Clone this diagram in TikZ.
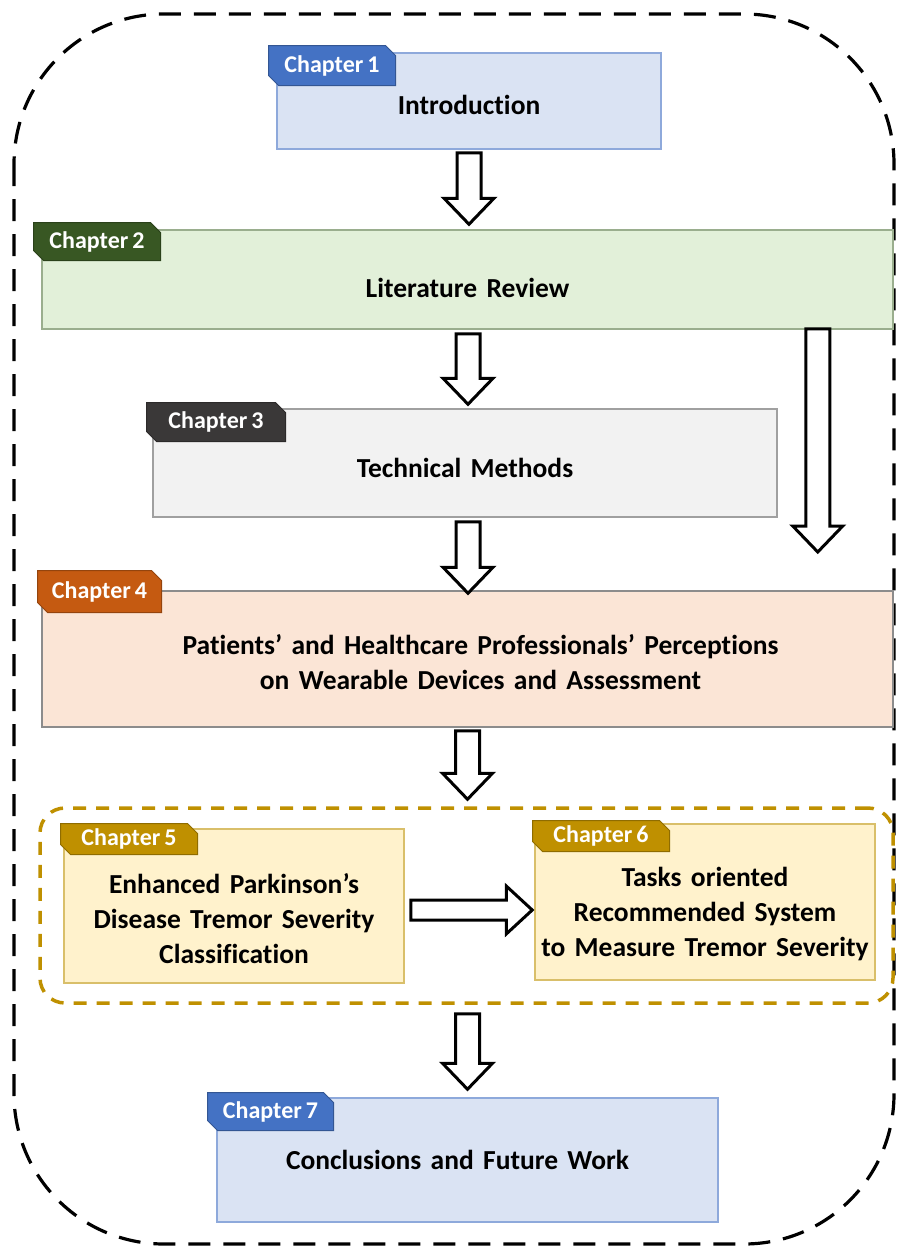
\documentclass[tikz,border=0pt]{standalone}
\usepackage{fontspec}
\setmainfont{Carlito}[WordSpace=1.5, Ligatures=NoCommon]
\usetikzlibrary{calc,positioning,shapes.misc}

\definecolor{bluetab}{HTML}{4472C4}
\definecolor{bluefill}{HTML}{DAE3F3}
\definecolor{blueline}{HTML}{8EA9DB}
\definecolor{greentab}{HTML}{385723}
\definecolor{greenfill}{HTML}{E2F0D9}
\definecolor{greenline}{HTML}{9AAE8E}
\definecolor{greytab}{HTML}{3A3838}
\definecolor{greyfill}{HTML}{F2F2F2}
\definecolor{greyline}{HTML}{A0A0A0}
\definecolor{orangetab}{HTML}{C55A11}
\definecolor{orangefill}{HTML}{FBE5D6}
\definecolor{orangeline}{HTML}{8C8C8C}
\definecolor{goldtab}{HTML}{BF9000}
\definecolor{goldfill}{HTML}{FFF2CC}
\definecolor{goldline}{HTML}{D9BF6A}

\tikzset{
  chapbox/.style 2 args={rectangle, fill=#1, draw=#2, line width=1.5pt, inner sep=0pt},
  body/.style={font=\bfseries\fontsize{27.5}{35}\selectfont, align=center, text=black},
  tab/.style={chamfered rectangle, chamfered rectangle corners={north east,south west},
    chamfered rectangle xsep=5pt, chamfered rectangle ysep=5pt,
    fill=#1, draw=#1!75!black, line width=1pt, text=white, inner sep=0pt,
    font=\bfseries\fontsize{24}{28}\selectfont, anchor=north west},
  fatarrow/.style={draw=black, fill=white, line width=3pt, line join=miter},
  outerline/.style={draw=black, line width=3.2pt, dash pattern=on 22pt off 13pt, rounded corners=150pt},
  groupline/.style={draw=goldtab, line width=3.5pt, dash pattern=on 13pt off 10pt, rounded corners=25pt}
}

% block arrow pointing down / right
\newcommand{\downarr}[2]{%
  \draw[fatarrow] let \p1=#1, \p2=#2 in
    (\x1-12pt,\y1) -- (\x1+12pt,\y1) -- (\x1+12pt,\y2+26pt) -- (\x1+25pt,\y2+26pt)
    -- (\x1,\y2) -- (\x1-25pt,\y2+26pt) -- (\x1-12pt,\y2+26pt) -- cycle;}
\newcommand{\rightarr}[2]{%
  \draw[fatarrow] let \p1=#1, \p2=#2 in
    (\x1,\y1+10pt) -- (\x2-26pt,\y1+10pt) -- (\x2-26pt,\y1+24pt) -- (\x2,\y1)
    -- (\x2-26pt,\y1-24pt) -- (\x2-26pt,\y1-10pt) -- (\x1,\y1-10pt) -- cycle;}

\begin{document}
\begin{tikzpicture}[x=1pt,y=-1pt]
  \useasboundingbox (0,0) rectangle (905,1250);

  \draw[outerline] (14,14) rectangle (894,1244);

  % chapter boxes
  \node[chapbox={bluefill}{blueline}, minimum width=384pt, minimum height=96pt,
        label={[body,yshift=-4pt]center:Introduction}] (ch1) at (469,101) {};
  \node[chapbox={greenfill}{greenline}, minimum width=851pt, minimum height=99pt,
        label={[body,yshift=-8pt]center:Literature Review}] (ch2) at (467.5,279.5) {};
  \node[chapbox={greyfill}{greyline}, minimum width=624pt, minimum height=108pt,
        label={[body,yshift=-5pt]center:Technical Methods}] (ch3) at (465,463) {};
  \node[chapbox={orangefill}{orangeline}, minimum width=851pt, minimum height=136pt,
        label={[body,yshift=-3pt,xshift=13pt]center:Patients’ and Healthcare Professionals’ Perceptions\\on Wearable Devices and Assessment}] (ch4) at (467.5,659) {};

  \node[groupline, minimum width=853pt, minimum height=195pt] (grp) at (466.5,905.5) {};

  \node[chapbox={goldfill}{goldline}, minimum width=340pt, minimum height=154pt,
        label={[body,yshift=-13pt]center:Enhanced Parkinson’s\\Disease Tremor Severity\\Classification}] (ch5) at (234,906) {};
  \node[chapbox={goldfill}{goldline}, minimum width=340pt, minimum height=156pt,
        label={[body,yshift=-12pt]center:Tasks oriented\\Recommended System\\to Measure Tremor Severity}] (ch6) at (705,902) {};
  \node[chapbox={bluefill}{blueline}, minimum width=501pt, minimum height=124pt,
        label={[body,xshift=-10pt]center:Conclusions and Future Work}] (ch7) at (467.5,1160) {};

  % tabs
  \node[tab=bluetab, minimum width=127pt, minimum height=40pt] (t1) at (268,45) {Chapter\,1};
  \node[tab=greentab, minimum width=127pt, minimum height=38pt] (t2) at (33,222) {Chapter\,2};
  \node[tab=greytab, minimum width=139pt, minimum height=39pt] (t3) at (146,402) {Chapter\,3};
  \node[tab=orangetab, minimum width=124pt, minimum height=42pt] (t4) at (37,570) {Chapter\,4};
  \node[tab=goldtab, minimum width=137pt, minimum height=31pt] (t5) at (60,823) {Chapter\,5};
  \node[tab=goldtab, minimum width=137pt, minimum height=31pt] (t6) at (532,820) {Chapter\,6};
  \node[tab=bluetab, minimum width=126pt, minimum height=38pt] (t7) at (207,1092) {Chapter\,7};

  % arrows
  \coordinate (longend) at (817,552);
  \downarr{($(ch1.south)+(0,3)$)}{($(ch2.north)+(0,-5)$)}
  \downarr{($(ch2.south)+(0.5,4)$)}{($(ch3.north)+(0,-4)$)}
  \downarr{($(ch3.south)+(3,4)$)}{($(ch4.north)+(0,3)$)}
  \downarr{($(ch4.south)+(0,3)$)}{($(grp.north)+(0,-7)$)}
  \downarr{($(grp.south)+(1,9)$)}{($(ch7.north)+(0,-8)$)}
  \downarr{($(ch2.south east)+(-76,-1)$)}{(longend)}
  \rightarr{($(ch5.east)+(6,4)$)}{($(ch6.west)+(-2,0)$)}
\end{tikzpicture}
\end{document}
